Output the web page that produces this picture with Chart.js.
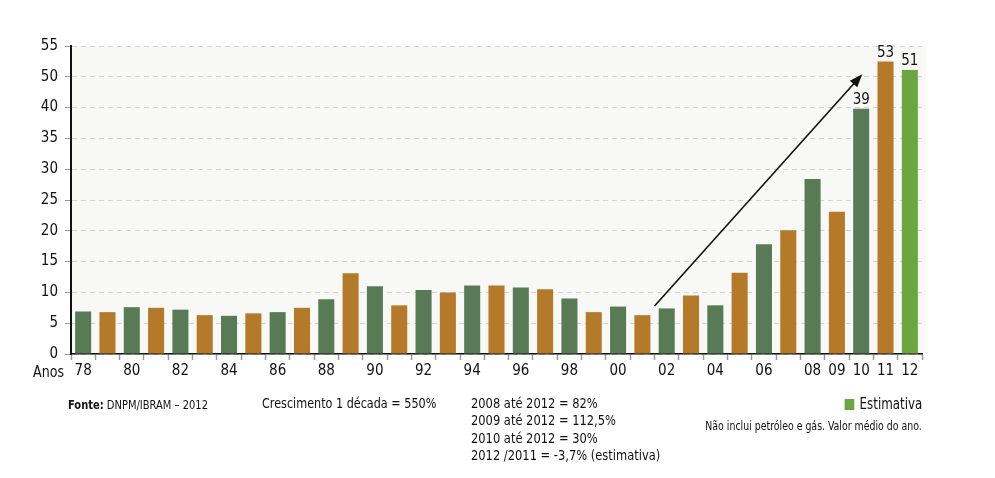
<!DOCTYPE html>
<html>
<head>
<meta charset="utf-8">
<script src="https://cdn.jsdelivr.net/npm/chart.js@4"></script>
<style>
  body { margin: 0; background: #fff; }
  #wrap { position: relative; width: 995px; height: 478px; font-family: 'Liberation Sans Narrow', 'DejaVu Sans Condensed', sans-serif; color: #111; }
  canvas { position: absolute; left: 0; top: 0; }
  .txt { position: absolute; white-space: nowrap; transform: scaleX(0.88); transform-origin: left top; }
  .r { transform-origin: right top; text-align: right; }
</style>
</head>
<body>
<div id="wrap">
  <canvas id="chart" width="995" height="478"></canvas>
  <div class="txt" style="left:33px; top:362px; font-size:16px;">Anos</div>
  <div class="txt" style="left:68px; top:398px; font-size:12px; transform: scaleX(0.92);"><b>Fonte:</b> DNPM/IBRAM – 2012</div>
  <div class="txt" style="left:262px; top:395px; font-size:14.5px; transform: scaleX(0.86);">Crescimento 1 década = 550%</div>
  <div class="txt" style="left:471px; top:395px; font-size:14.5px; line-height:17.3px;">
    2008 até 2012 = 82%<br>2009 até 2012 = 112,5%<br>2010 até 2012 = 30%<br>2012 /2011 = -3,7% (estimativa)
  </div>
  <div class="txt r" style="right:73px; top:395px; font-size:15px;"><span style="display:inline-block;width:11px;height:11px;background:#6ca640;margin-right:6px;vertical-align:-1px;"></span>Estimativa</div>
  <div class="txt r" style="right:73px; top:419px; font-size:12px; transform: scaleX(0.87);">Não inclui petróleo e gás. Valor médio do ano.</div>
</div>
<script>
// anos 1978-2012
const years = ['78','79','80','81','82','83','84','85','86','87','88','89','90','91','92','93','94','95','96','97','98','99','00','01','02','03','04','05','06','07','08','09','10','11','12'];
// rótulos mostrados no eixo x
const xLabels = ['78','','80','','82','','84','','86','','88','','90','','92','','94','','96','','98','','00','','02','','04','','06','','08','09','10','11','12'];
const values = [6.9, 6.8, 7.6, 7.5, 7.2, 6.3, 6.2, 6.6, 6.8, 7.5, 8.9, 13.1, 11.0, 7.9, 10.4, 10.0, 11.1, 11.1, 10.8, 10.5, 9.0, 6.8, 7.7, 6.3, 7.4, 9.5, 7.9, 13.2, 17.8, 20.1, 28.4, 23.1, 39.8, 52.5, 51.1];
const valueLabels = ['','','','','','','','','','','','','','','','','','','','','','','','','','','','','','','','','39','53','51'];
// eixo y com salto entre 40 e 50
const yTickLabels = ['0','5','10','15','20','25','30','35','40','50','55'];

const GREEN = '#587b55', ORANGE = '#b5792a', ESTIM = '#6ca640';
const FONT = "'Liberation Sans Narrow', 'DejaVu Sans Condensed', sans-serif";

function toAxis(v) {
  if (v <= 40) return v;
  if (v >= 50) return v - 5;
  return 40 + (v - 40) * 0.5;
}

const bgPlugin = {
  id: 'bg',
  beforeDraw(chart) {
    const a = chart.chartArea, ctx = chart.ctx;
    ctx.save();
    ctx.fillStyle = '#f8f8f6';
    ctx.fillRect(a.left, a.top, a.right - a.left + 4, a.bottom - a.top);
    ctx.restore();
  }
};

const extras = {
  id: 'extras',
  afterDatasetsDraw(chart) {
    const ctx = chart.ctx, x = chart.scales.x, y = chart.scales.y;
    const meta = chart.getDatasetMeta(0);
    ctx.save();
    ctx.fillStyle = '#111';
    ctx.font = '15px ' + FONT;
    ctx.textAlign = 'center';
    ctx.textBaseline = 'bottom';
    meta.data.forEach((bar, i) => {
      if (valueLabels[i]) ctx.fillText(valueLabels[i], bar.x, bar.y - 1);
    });
    // seta de crescimento
    const half = (x.getPixelForValue(1) - x.getPixelForValue(0)) / 2;
    const x0 = x.getPixelForValue(24) - half, y0 = y.getPixelForValue(7.8);
    const x1 = x.getPixelForValue(32) + 1, y1 = y.getPixelForValue(45.4);
    const ang = Math.atan2(y1 - y0, x1 - x0);
    ctx.strokeStyle = '#111';
    ctx.lineWidth = 1.6;
    ctx.beginPath();
    ctx.moveTo(x0, y0);
    ctx.lineTo(x1 - 10 * Math.cos(ang), y1 - 10 * Math.sin(ang));
    ctx.stroke();
    ctx.beginPath();
    ctx.moveTo(x1, y1);
    ctx.lineTo(x1 - 13 * Math.cos(ang) + 5 * Math.sin(ang), y1 - 13 * Math.sin(ang) - 5 * Math.cos(ang));
    ctx.lineTo(x1 - 13 * Math.cos(ang) - 5 * Math.sin(ang), y1 - 13 * Math.sin(ang) + 5 * Math.cos(ang));
    ctx.closePath();
    ctx.fill();
    ctx.restore();
  }
};

new Chart(document.getElementById('chart'), {
  type: 'bar',
  data: {
    labels: years,
    datasets: [{
      data: values.map(toAxis),
      backgroundColor: values.map((v, i) => i === values.length - 1 ? ESTIM : (i % 2 ? ORANGE : GREEN)),
      barPercentage: 0.66,
      categoryPercentage: 1
    }]
  },
  options: {
    responsive: false,
    animation: false,
    layout: { padding: { top: 46, right: 73, left: 0, bottom: 0 } },
    plugins: { legend: { display: false }, tooltip: { enabled: false } },
    scales: {
      x: {
        afterFit(s) { s.height = 124; },
        grid: { offset: true, drawOnChartArea: false, tickLength: 6, color: '#9a9a9a', tickWidth: 1.5 },
        border: { color: '#111', width: 1.5 },
        ticks: {
          autoSkip: false, maxRotation: 0, padding: 2, color: '#111',
          font: { family: FONT, size: 15 },
          callback: (v, i) => xLabels[i]
        }
      },
      y: {
        min: 0, max: 50,
        afterFit(s) { s.width = 71; },
        grid: { color: '#d3d3d3', tickLength: 6, tickColor: '#9a9a9a', tickBorderDash: [] },
        border: { color: '#111', width: 2, dash: [5, 4] },
        ticks: {
          stepSize: 5, padding: 7, color: '#111',
          font: { family: FONT, size: 15 },
          callback: (v, i) => yTickLabels[i]
        }
      }
    }
  },
  plugins: [bgPlugin, extras]
});
</script>
</body>
</html>
